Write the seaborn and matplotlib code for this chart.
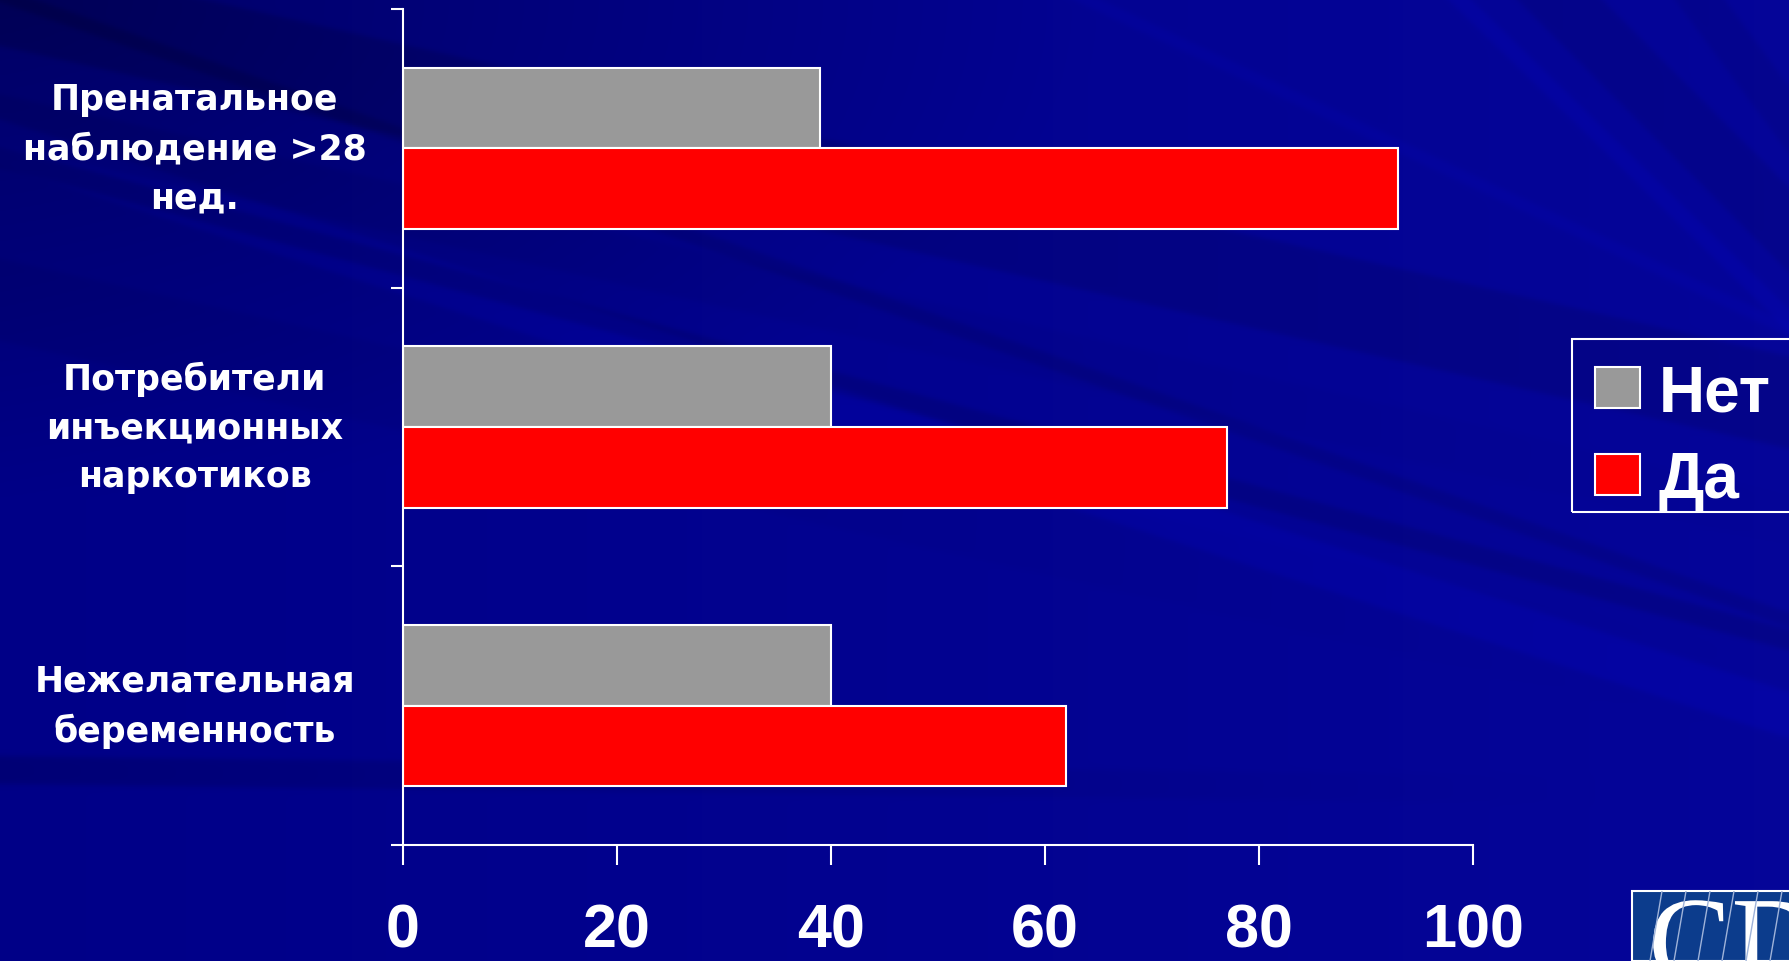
import numpy as np
import pandas as pd
import matplotlib
matplotlib.use("Agg")
import matplotlib.pyplot as plt
from matplotlib.patches import Rectangle, PathPatch
from matplotlib.textpath import TextPath
from matplotlib.font_manager import FontProperties
from matplotlib.transforms import Affine2D, IdentityTransform
import seaborn as sns

# ---- data ----
categories = ["Пренатальное\nнаблюдение >28\nнед.",
              "Потребители\nинъекционных\nнаркотиков",
              "Нежелательная\nбеременность"]
series_names = ["Нет", "Да"]
values_net = [39, 40, 40]
values_da = [93, 77, 62]
x_ticks = [0, 20, 40, 60, 80, 100]

df = pd.DataFrame({
    "cat": categories * 2,
    "grp": [series_names[0]] * 3 + [series_names[1]] * 3,
    "val": values_net + values_da,
})

sns.set_theme(style="white")
plt.rcParams["font.family"] = ["Liberation Sans", "DejaVu Sans"]

W, H = 1789, 962
fig = plt.figure(figsize=(W / 100, H / 100), dpi=100)

# ---- background (dark blue slide with diagonal rays) ----
bg = fig.add_axes([0, 0, 1, 1], zorder=-5)
yy, xx = np.mgrid[0:H:2, 0:W:2].astype(float)
u = xx / W
blue = 0.53 + 0.07 * u
blue -= 0.13 * np.clip(1 - np.hypot(xx / 1100, yy / 500), 0, 1)


def band(x0, y0, x1, y1, hw, delta, fade=None):
    dx, dy = x1 - x0, y1 - y0
    L = np.hypot(dx, dy)
    d = ((xx - x0) * dy - (yy - y0) * dx) / L
    m = 0.5 * (1 - np.tanh((np.abs(d) - hw) / 3.0))
    if fade is not None:
        t = ((xx - x0) * dx + (yy - y0) * dy) / L ** 2
        m = m * np.clip(fade[0] + (fade[1] - fade[0]) * t, 0, 1)
    return delta * m


ray_bands = [
    (0, 0, 800, 180, 45, -0.06, None),
    (0, 120, 1789, 520, 25, -0.03, (1.0, 0.2)),
    (0, 300, 1789, 700, 40, -0.025, (1.0, 0.0)),
    (0, 770, 1600, 790, 14, -0.07, (1.0, 0.0)),
    (1320, 565, 1789, 715, 22, 0.045, None),
    (1400, 535, 1789, 640, 10, -0.06, None),
    (1560, 540, 1789, 620, 7, -0.05, None),
    (1460, 0, 1789, 320, 8, 0.04, None),
    (1560, 0, 1789, 230, 30, -0.05, None),
    (1700, 0, 1789, 120, 20, -0.04, None),
    (1300, 100, 1789, 330, 6, 0.03, None),
]
for b in ray_bands:
    blue += band(*b[:6], fade=b[6])
blue = np.clip(blue, 0, 1)
img = np.zeros(yy.shape + (3,))
img[..., 0] = 0.02 * u
img[..., 1] = 0.02 * u
img[..., 2] = blue
bg.imshow(img, aspect="auto", extent=[0, 1, 0, 1], origin="upper")
bg.set_axis_off()

# ---- main axes ----
ax = fig.add_axes([403 / W, 1 - 846 / H, 1070 / W, 836 / H])
ax.set_facecolor("none")
sns.barplot(data=df, y="cat", x="val", hue="grp", orient="h",
            order=categories, hue_order=series_names,
            palette=["#999999", "#FF0000"], width=0.58,
            edgecolor="white", linewidth=1.5, saturation=1, ax=ax)

ax.set_xlim(0, 100)
ax.set_ylim(2.5, -0.5)
ax.set_xticks(x_ticks)
ax.set_xticklabels([str(t) for t in x_ticks], fontsize=44, fontweight="bold",
                   color="white", family=["Liberation Sans", "DejaVu Sans"])
ax.tick_params(axis="x", length=14.5, width=1.5, color="white", direction="out",
               pad=27, bottom=True)
ax.set_yticks([-0.5, 0.5, 1.5, 2.5], minor=True)
ax.tick_params(axis="y", which="minor", length=9, width=1.5, color="white",
               direction="out", left=True)
ax.tick_params(axis="y", which="major", length=0, pad=150)
for lab in ax.get_yticklabels():
    lab.set_fontsize(25)
    lab.set_fontweight("bold")
    lab.set_color("white")
    lab.set_family(["DejaVu Sans"])
    lab.set_horizontalalignment("center")
    lab.set_verticalalignment("center")
    lab.set_multialignment("center")
    lab.set_linespacing(1.55)
ax.set_xlabel("")
ax.set_ylabel("")
for s in ["top", "right"]:
    ax.spines[s].set_visible(False)
for s in ["left", "bottom"]:
    ax.spines[s].set_color("white")
    ax.spines[s].set_linewidth(1.5)
ax.grid(False)

# ---- legend ----
handles, labels = ax.get_legend_handles_labels()
if ax.legend_:
    ax.legend_.remove()
frame = Rectangle((1572 / W, 1 - 513 / H), (W - 1572) / W + 0.01, 173 / H,
                  transform=fig.transFigure, facecolor="none",
                  edgecolor="white", linewidth=1.5, zorder=2)
fig.patches.append(frame)
leg = fig.legend(handles, labels, loc="upper left",
                 bbox_to_anchor=(1595 / W, 1 - 364 / H),
                 bbox_transform=fig.transFigure, borderaxespad=0,
                 prop={"family": "Liberation Sans", "weight": "bold", "size": 46},
                 labelcolor="white", handlelength=0.7, handleheight=0.6,
                 handletextpad=0.3, labelspacing=0.42, borderpad=0,
                 frameon=False)
for h in leg.legend_handles:
    h.set_edgecolor("white")
    h.set_linewidth(1.5)

# ---- partial CDC logo in the corner (graphic, clipped by the image edge) ----
logo = Rectangle((1632 / W, 0), (W - 1632) / W + 0.01, (962 - 892) / H,
                 transform=fig.transFigure, facecolor="#0C3C8C",
                 edgecolor="white", linewidth=1.5, zorder=3)
fig.patches.append(logo)
tp = TextPath((0, 0), "CDC", size=125,
              prop=FontProperties(family="Liberation Serif"))
glyphs = PathPatch(tp, transform=Affine2D().translate(1648, -22) + IdentityTransform(),
                   facecolor="white", edgecolor="none", zorder=4)
glyphs.set_clip_path(logo)
fig.patches.append(glyphs)
for k in range(7):
    x0 = (1650 + k * 24) / W
    ln = plt.Line2D([x0, x0 + 12 / W], [0, 70 / H], transform=fig.transFigure,
                    color="#9fb3d9", linewidth=1, zorder=5)
    ln.set_clip_path(logo)
    fig.lines.append(ln)

fig.savefig("out.png", dpi=100)
